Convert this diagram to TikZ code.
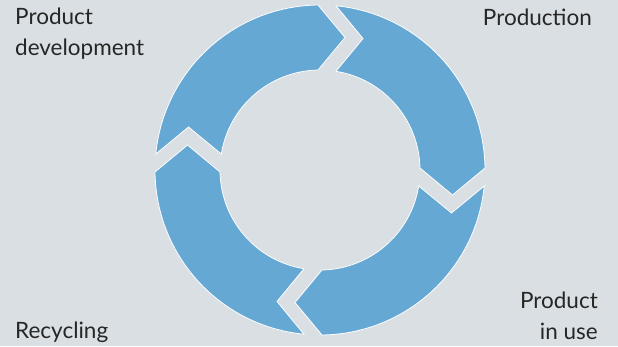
\documentclass[tikz,border=0pt]{standalone}
\usepackage{fontspec}
\setmainfont{Lato}
\definecolor{bgcol}{HTML}{D9DFE3}
\definecolor{ringblue}{HTML}{65A8D4}
\tikzset{
  segment/.style={fill=ringblue,draw=white,line width=0.8pt},
  phase/.style={font=\fontsize{22.5}{31}\selectfont,text=black!85,inner sep=0pt}
}

\begin{document}
\begin{tikzpicture}[x=1pt,y=1pt]
  \fill[bgcol](-320,-176)rectangle(298,170);
  \useasboundingbox(-320,-176)rectangle(298,170);
  % four arrow pieces of the ring, clockwise
  \foreach\rot in {0,-90,-180,-270} {
     \draw[segment,rotate=\rot](84.43:165pt)
        arc[start angle=84.43,end angle=0.69,radius=165pt]
        --(132.49,-25)
        --(1.15:100pt)
        arc[start angle=1.15,end angle=80.79,radius=100pt]
        --(43,131.47)--cycle;
   }
  \node[phase,anchor=base west,align=left](dev)at(-305,115){Product\\development};
  \node[phase,anchor=base east](prod)at(272,145){Production};
  \node[phase,anchor=base east,align=right](use)at(278,-169){Product\\in use};
  \node[phase,anchor=base west](recyc)at(-305,-168){Recycling};
\end{tikzpicture}
\end{document}
